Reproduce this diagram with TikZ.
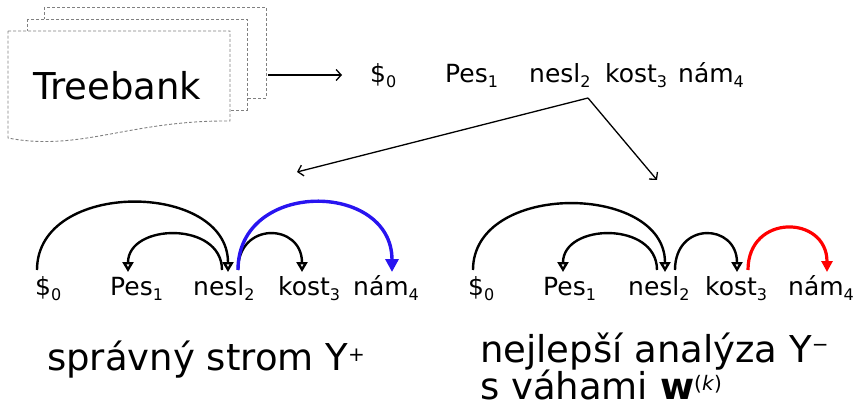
\documentclass[tikz,border=0pt]{standalone}
\usepackage{fontspec}
\setmainfont{DejaVu Sans}
\usetikzlibrary{calc,arrows.meta}
\definecolor{arcblue}{RGB}{40,20,240}
\definecolor{arcred}{RGB}{255,0,0}
\newcommand\subx[1]{\raisebox{-5pt}{\fontsize{16}{16}\selectfont #1}}
\newcommand\supx[2]{\raisebox{#1}{\fontsize{20}{20}\selectfont #2}}
\begin{document}
\begin{tikzpicture}[x=1pt,y=-1pt,
  word/.style={anchor=base west,inner sep=0pt,font=\fontsize{25}{30}\selectfont},
  big/.style={anchor=base west,inner sep=0pt,font=\fontsize{37}{44}\selectfont},
  page/.style={draw=gray,dash pattern=on 3pt off 2pt,fill=white,line width=0.9pt},
  dep/.style={line width=2.4pt,-{Triangle[open,length=10pt,width=11pt]}},
  blueedge/.style={line width=3.4pt,draw=arcblue,-{Triangle[length=13pt,width=13pt]}},
  rededge/.style={line width=3.2pt,draw=arcred,-{Triangle[length=11pt,width=11pt]}},
  flow/.style={line width=1.3pt,-{Straight Barb[length=5pt,width=11pt]}}]
\useasboundingbox (0,0) rectangle (857,409);
% treebank pages
\draw[page] (44,7) rectangle (266,98);
\draw[page] (27,19) rectangle (247,110);
\draw[page] (8,31) -- (230,31) -- (230,121) .. controls (130,120) and (80,152) .. (8,138) -- cycle;
\node[big] (TB) at (33,100) {Treebank};
\coordinate (tbR) at (268,75);
% top sentence
\node[word] (T0) at (370,83) {\$\subx{0}};
\node[word] (T1) at (445,83) {Pes\subx{1}};
\node[word] (T2) at (529,83) {nesl\subx{2}};
\node[word] (T3) at (605,83) {kost\subx{3}};
\node[word] (T4) at (678,83) {nám\subx{4}};
\draw[flow] (tbR) -- ($(T0.base west)+(-28,-8)$);
\coordinate (split) at ($(T2.base west)+(59,15)$);
\coordinate (goL) at (297,172);
\coordinate (goR) at (657,180);
\draw[flow] (split) -- (goL);
\draw[flow] (split) -- (goR);
% left tree
\node[word] (L0) at (35,295) {\$\subx{0}};
\node[word] (L1) at (110,295) {Pes\subx{1}};
\node[word] (L2) at (193,295) {nesl\subx{2}};
\node[word] (L3) at (278,295) {kost\subx{3}};
\node[word] (L4) at (353,295) {nám\subx{4}};
\draw[dep] ($(L0.base west)+(2,-25)$) .. controls +(0,-91) and +(0,-91) .. ($(L2.base west)+(35,-23)$);
\draw[dep] ($(L2.base west)+(29,-25)$) .. controls +(0,-49) and +(0,-49) .. ($(L1.base west)+(18,-23)$);
\draw[dep] ($(L2.base west)+(45,-25)$) .. controls +(0,-49) and +(0,-49) .. ($(L3.base west)+(24,-23)$);
\draw[blueedge] ($(L2.base west)+(45,-25)$) .. controls +(0,-91) and +(0,-91) .. ($(L4.base west)+(39,-23)$);
% right tree
\node[word] (R0) at (468,295) {\$\subx{0}};
\node[word] (R1) at (543,295) {Pes\subx{1}};
\node[word] (R2) at (628,295) {nesl\subx{2}};
\node[word] (R3) at (705,295) {kost\subx{3}};
\node[word] (R4) at (788,295) {nám\subx{4}};
\draw[dep] ($(R0.base west)+(5,-25)$) .. controls +(0,-89) and +(0,-89) .. ($(R2.base west)+(37,-23)$);
\draw[dep] ($(R2.base west)+(29,-25)$) .. controls +(0,-49) and +(0,-49) .. ($(R1.base west)+(20,-23)$);
\draw[dep] ($(R2.base west)+(47,-25)$) .. controls +(0,-49) and +(0,-49) .. ($(R3.base west)+(32,-23)$);
\draw[rededge] ($(R3.base west)+(43,-25)$) .. controls +(0,-57) and +(0,-57) .. ($(R4.base west)+(39,-23)$);
% labels
\node[big] (labL) at (47,370) {správný strom Y\supx{9pt}{+}};
\node[big] (labR1) at (480,362) {nejlepší analýza Y\supx{11pt}{−}};
\node[big] (labR2) at (480,399) {s váhami {\bfseries w}\supx{9pt}{(\textit{k})}};
\end{tikzpicture}
\end{document}
